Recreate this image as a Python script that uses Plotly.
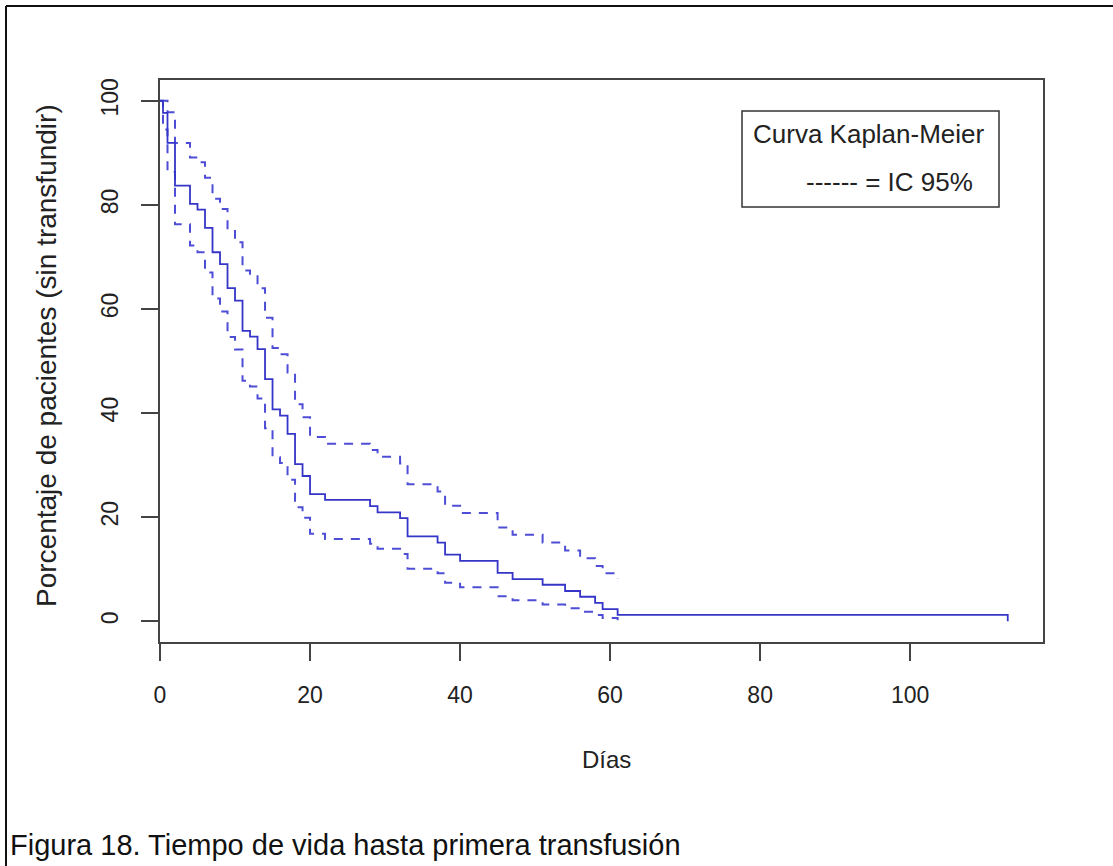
import plotly.graph_objects as go

# ---- data ----
dias = [0, 0.4, 1, 2, 4, 5, 6, 7, 8, 9, 10, 11, 12, 13, 14, 15, 16, 17, 18, 19,
        20, 22, 28, 29, 32, 33, 37, 38, 40, 45, 47, 51, 54, 56, 58, 59, 61, 113]
km = [100, 97.7, 91.9, 83.7, 80.2, 79.1, 75.6, 70.9, 68.6, 64.0, 61.6, 55.8, 54.7,
      52.3, 46.5, 40.7, 39.5, 36.0, 30.2, 27.9, 24.4, 23.3, 22.1, 20.9, 19.8, 16.3,
      15.1, 12.8, 11.6, 9.3, 8.1, 7.0, 5.8, 4.7, 3.5, 2.3, 1.2, 0]
dias_ic = dias[:-1]
ic_sup = [100, 100, 97.8, 91.9, 89.1, 88.2, 85.2, 81.2, 79.2, 75.0, 72.8, 67.4, 66.3,
          64.0, 58.3, 52.5, 51.3, 47.8, 41.7, 39.2, 35.4, 34.1, 32.9, 31.6, 30.3, 26.3,
          24.9, 22.2, 20.8, 18.0, 16.6, 15.1, 13.6, 12.1, 10.6, 9.2, 8.2]
ic_inf = [100, 94.5, 86.3, 76.3, 72.2, 70.9, 67.0, 62.0, 59.5, 54.6, 52.2, 46.2, 45.1,
          42.8, 37.1, 31.5, 30.4, 27.2, 21.9, 19.9, 16.8, 15.8, 14.9, 13.9, 12.9, 10.1,
          9.2, 7.4, 6.5, 4.8, 4.0, 3.2, 2.5, 1.8, 1.2, 0.6, 0.2]
xticks = [0, 20, 40, 60, 80, 100]
yticks = [0, 20, 40, 60, 80, 100]

FONT = "Liberation Sans, Arial, Helvetica, sans-serif"
TXT = "#222222"
AX = "#444444"

W, H = 1113, 866
L, R, T, B = 160, 70, 80, 224
pw, ph = W - L - R, H - T - B


def px(x):
    return (x - L) / pw


def py(y):
    return (H - B - y) / ph


fig = go.Figure()
for ys in (ic_sup, ic_inf):
    fig.add_trace(go.Scatter(x=dias_ic, y=ys, mode="lines", line_shape="hv",
                             line=dict(color="#4d4dd6", width=2, dash="9px,8px"),
                             showlegend=False, hoverinfo="skip"))
fig.add_trace(go.Scatter(x=dias, y=km, mode="lines", line_shape="hv",
                         line=dict(color="#3535c8", width=1.8),
                         showlegend=False))

axis_common = dict(showline=True, mirror=True, linecolor=AX, linewidth=1.5,
                   ticks="outside", ticklen=17, tickwidth=1.5, tickcolor=AX,
                   showgrid=False, zeroline=False,
                   tickfont=dict(family=FONT, size=23, color=TXT))
fig.update_xaxes(range=[0, 117.7], tickvals=xticks, ticklabelstandoff=15, **axis_common)
fig.update_yaxes(range=[-4, 104], tickvals=yticks, tickangle=-90, ticklabelstandoff=14,
                 **axis_common)

shapes = [
    # outer frame (left and top edges)
    dict(type="line", xref="paper", yref="paper", x0=px(6), x1=px(6), y0=py(6), y1=py(870),
         line=dict(color="#111111", width=2)),
    dict(type="line", xref="paper", yref="paper", x0=px(6), x1=px(1120), y0=py(6), y1=py(6),
         line=dict(color="#111111", width=2)),
    # legend box
    dict(type="rect", xref="paper", yref="paper", x0=px(742), x1=px(999), y0=py(207), y1=py(111),
         line=dict(color="#333333", width=1.5), fillcolor="rgba(0,0,0,0)"),
]

annotations = [
    dict(text="Curva Kaplan-Meier", xref="paper", yref="paper", x=px(751), y=py(134),
         xanchor="left", yanchor="middle", showarrow=False,
         font=dict(family=FONT, size=26, color=TXT)),
    dict(text="------ = IC 95%", xref="paper", yref="paper", x=px(804), y=py(182),
         xanchor="left", yanchor="middle", showarrow=False,
         font=dict(family=FONT, size=26, color=TXT)),
    dict(text="Días", xref="paper", yref="paper", x=px(606), y=py(759),
         xanchor="center", yanchor="middle", showarrow=False,
         font=dict(family=FONT, size=24, color=TXT)),
    dict(text="Porcentaje de pacientes (sin transfundir)", xref="paper", yref="paper",
         x=px(46), y=py(356), textangle=-90, xanchor="center", yanchor="middle",
         showarrow=False, font=dict(family=FONT, size=28, color=TXT)),
    dict(text="Figura 18. Tiempo de vida hasta primera transfusión", xref="paper", yref="paper",
         x=px(8), y=py(845), xanchor="left", yanchor="middle", showarrow=False,
         font=dict(family=FONT, size=29, color="#111111")),
]

fig.update_layout(width=W, height=H, margin=dict(l=L, r=R, t=T, b=B),
                  paper_bgcolor="white", plot_bgcolor="white",
                  shapes=shapes, annotations=annotations, showlegend=False)

fig.write_html("out.html")
